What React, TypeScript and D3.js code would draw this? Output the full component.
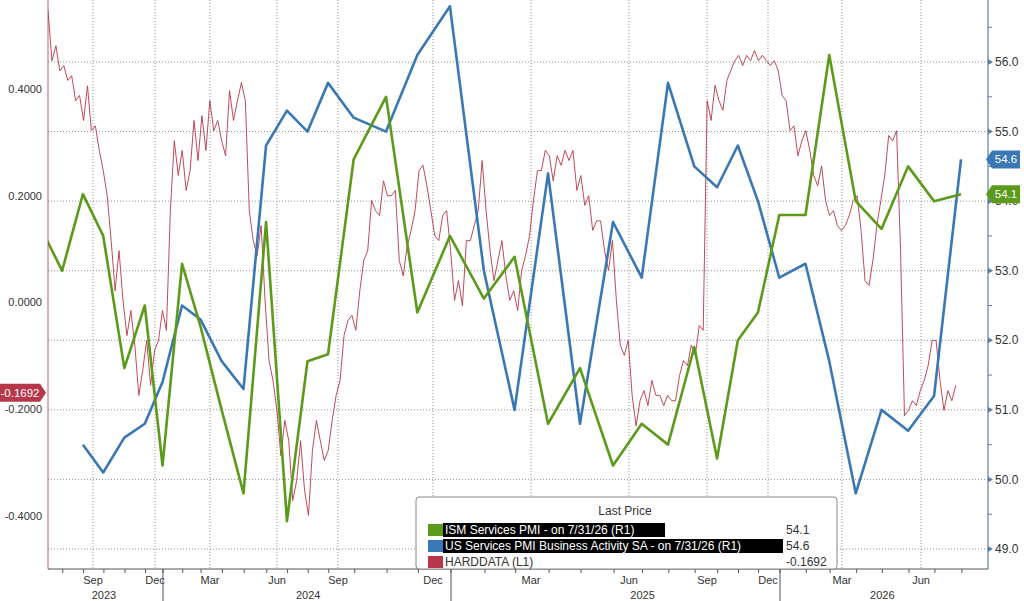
import React, { useEffect, useRef } from 'react';
import * as d3 from 'd3';

// axis anchors: month label positions on the Bloomberg-style compressed time axis
const axisAnchors: [string, number][] = [
  ['2023-07-10', 48], ['2023-09-15', 93], ['2023-12-15', 155], ['2024-01-01', 163],
  ['2024-03-15', 210], ['2024-06-15', 277], ['2024-09-15', 338], ['2024-12-15', 433],
  ['2025-01-01', 451], ['2025-03-15', 531], ['2025-06-15', 629], ['2025-09-15', 707],
  ['2025-12-15', 768], ['2026-01-01', 780], ['2026-03-15', 842], ['2026-06-15', 921],
  ['2026-08-31', 988],
];
const monthLabels: [string, string][] = [
  ['2023-09-15', 'Sep'], ['2023-12-15', 'Dec'], ['2024-03-15', 'Mar'], ['2024-06-15', 'Jun'],
  ['2024-09-15', 'Sep'], ['2024-12-15', 'Dec'], ['2025-03-15', 'Mar'], ['2025-06-15', 'Jun'],
  ['2025-09-15', 'Sep'], ['2025-12-15', 'Dec'], ['2026-03-15', 'Mar'], ['2026-06-15', 'Jun'],
];
const yearLabels: [string, string][] = [
  ['2023-10-01', '2023'], ['2024-08-01', '2024'], ['2025-07-01', '2025'], ['2026-05-01', '2026'],
];
const yearBreaks = ['2024-01-01', '2025-01-01', '2026-01-01'];

// monthly series, plotted at month end
const ismStart = '2023-06-01';
const ismValues = [53.6, 53.0, 54.1, 53.5, 51.6, 52.5, 50.2, 53.1, 52.2, 51.0, 49.8, 53.7, 49.4, 51.7,
  51.8, 54.6, 55.5, 52.4, 53.5, 52.6, 53.2, 50.8, 51.6, 50.2, 50.8, 50.5, 51.9, 50.3, 52.0, 52.4,
  53.8, 53.8, 56.1, 54.0, 53.6, 54.5, 54.0, 54.1];
const usStart = '2023-08-01';
const usValues = [50.5, 50.1, 50.6, 50.8, 51.4, 52.5, 52.3, 51.7, 51.3, 54.8, 55.3, 55.0, 55.7, 55.2,
  55.0, 56.1, 56.8, 53.0, 51.0, 54.4, 50.8, 53.7, 52.9, 55.7, 54.5, 54.2, 54.8, 54.0, 52.9, 53.1,
  51.7, 49.8, 51.0, 50.7, 51.2, 54.6];
const hardStart = '2023-07-10';
const hardEnd = '2026-07-25';
const hardValues = [0.547, 0.453, 0.481, 0.434, 0.444, 0.416, 0.425, 0.378, 0.388, 0.341, 0.406, 0.322,
  0.331, 0.285, 0.247, 0.200, 0.116, 0.022, 0.097, 0.004, -0.062, -0.015, -0.080, -0.174, -0.127, -0.071,
  -0.155, -0.090, -0.071, -0.015, -0.052, 0.172, 0.303, 0.238, 0.285, 0.210, 0.247, 0.341, 0.266, 0.350,
  0.285, 0.378, 0.322, 0.341, 0.303, 0.275, 0.397, 0.341, 0.378, 0.412, 0.378, 0.172, 0.116, 0.088,
  0.144, 0.004, -0.109, -0.146, -0.202, -0.287, -0.221, -0.259, -0.371, -0.334, -0.259, -0.352, -0.399,
  -0.277, -0.221, -0.259, -0.296, -0.277, -0.221, -0.174, -0.146, -0.062, -0.034, -0.024, -0.052, 0.022,
  0.079, 0.097, 0.191, 0.172, 0.163, 0.228, 0.200, 0.200, 0.210, 0.079, 0.050, 0.106, 0.135, 0.172,
  0.247, 0.257, 0.219, 0.172, 0.125, 0.116, 0.163, 0.172, 0.097, 0.004, 0.041, -0.006, 0.116, 0.116,
  0.144, 0.172, 0.266, 0.172, 0.097, 0.041, 0.079, 0.116, 0.050, 0.004, 0.022, -0.015, 0.060, 0.088,
  0.125, 0.191, 0.247, 0.247, 0.285, 0.275, 0.228, 0.275, 0.257, 0.285, 0.266, 0.285, 0.210, 0.238,
  0.182, 0.200, 0.135, 0.153, 0.153, 0.097, 0.060, 0.116, 0.004, -0.080, -0.099, -0.071, -0.174, -0.231,
  -0.184, -0.165, -0.193, -0.146, -0.174, -0.174, -0.193, -0.174, -0.184, -0.184, -0.137, -0.109, -0.118,
  -0.080, -0.099, -0.043, -0.052, 0.378, 0.341, 0.407, 0.378, 0.360, 0.416, 0.435, 0.453, 0.463, 0.444,
  0.463, 0.453, 0.472, 0.453, 0.463, 0.453, 0.444, 0.453, 0.435, 0.388, 0.378, 0.322, 0.331, 0.275,
  0.303, 0.322, 0.285, 0.238, 0.219, 0.256, 0.191, 0.163, 0.172, 0.144, 0.135, 0.144, 0.163, 0.191,
  0.200, 0.135, 0.041, 0.032, 0.079, 0.144, 0.191, 0.238, 0.313, 0.303, 0.322, 0.097, -0.212, -0.202,
  -0.184, -0.193, -0.165, -0.146, -0.118, -0.071, -0.071, -0.146, -0.202, -0.165, -0.184, -0.155];

const ink = '#333';
const green = '#5b9a1a';
const blue = '#3a78b5';
const red = '#b8364a';
const font = '"Liberation Sans Narrow", "Liberation Sans", sans-serif';

export default function App() {
  const ref = useRef<SVGSVGElement>(null);

  useEffect(() => {
    const svg = d3.select(ref.current!);
    svg.selectAll('*').remove();
    const W = 1024, H = 601;
    const left = 48, right = 988, top = 0, bottom = 569;

    const x = d3.scaleTime()
      .domain(axisAnchors.map(a => new Date(a[0])))
      .range(axisAnchors.map(a => a[1]));
    const yR = d3.scaleLinear().domain([49, 56]).range([549, 62]);
    const yL = d3.scaleLinear().domain([-0.4, 0.4]).range([516, 89]);

    svg.append('rect').attr('width', W).attr('height', H).attr('fill', '#fff');
    svg.append('clipPath').attr('id', 'plot').append('rect')
      .attr('x', left).attr('y', top).attr('width', right - left).attr('height', bottom - top);
    const g = svg.append('g');

    // horizontal grid (right axis)
    g.selectAll('.gh').data(d3.range(49, 57)).join('line')
      .attr('x1', left).attr('x2', right).attr('y1', d => yR(d)).attr('y2', d => yR(d))
      .attr('stroke', '#777').attr('stroke-dasharray', '1,2').attr('stroke-width', 0.8);
    // vertical grid at month labels
    g.selectAll('.gv').data(monthLabels).join('line')
      .attr('x1', d => x(new Date(d[0]))).attr('x2', d => x(new Date(d[0])))
      .attr('y1', top).attr('y2', bottom)
      .attr('stroke', '#777').attr('stroke-dasharray', '1,2').attr('stroke-width', 0.8);

    const plot = g.append('g').attr('clip-path', 'url(#plot)');

    // series
    const hs = new Date(hardStart), he = new Date(hardEnd);
    const hx0 = x(hs), hx1 = x(he);
    const hard = hardValues.map((v, i) => ({
      d: x.invert(hx0 + (i * (hx1 - hx0)) / (hardValues.length - 1)), v,
    }));
    plot.append('path').datum(hard)
      .attr('d', d3.line<{ d: Date; v: number }>().x(p => x(p.d)).y(p => yL(p.v)))
      .attr('fill', 'none').attr('stroke', red).attr('stroke-width', 0.9);

    const monthly = (start: string, vals: number[]) =>
      vals.map((v, i) => ({ d: d3.timeDay.offset(d3.timeMonth.offset(new Date(start + 'T00:00'), i + 1), -1), v }));
    const lineR = d3.line<{ d: Date; v: number }>().x(p => x(p.d)).y(p => yR(p.v));
    plot.append('path').datum(monthly(usStart, usValues)).attr('d', lineR)
      .attr('fill', 'none').attr('stroke', blue).attr('stroke-width', 2.6).attr('stroke-linejoin', 'round');
    plot.append('path').datum(monthly(ismStart, ismValues)).attr('d', lineR)
      .attr('fill', 'none').attr('stroke', green).attr('stroke-width', 2.6).attr('stroke-linejoin', 'round');

    // right axis
    g.append('line').attr('x1', right).attr('x2', right).attr('y1', 0).attr('y2', bottom)
      .attr('stroke', '#5a7fa8').attr('stroke-width', 1.2);
    g.selectAll('.rmt').data(d3.range(49.5, 57, 1)).join('line')
      .attr('x1', right).attr('x2', right + 4).attr('y1', d => yR(d)).attr('y2', d => yR(d))
      .attr('stroke', '#5a7fa8');
    const rt = g.selectAll('.rt').data(d3.range(49, 57)).join('g')
      .attr('transform', d => `translate(${right},${yR(d)})`);
    rt.append('path').attr('d', 'M0,-3L5,0L0,3Z').attr('fill', '#5a7fa8');
    rt.append('text').attr('x', 7).attr('dy', '0.35em').attr('font-size', 12).attr('font-family', font)
      .attr('fill', ink).text(d => d.toFixed(1));

    // left axis
    g.append('line').attr('x1', left).attr('x2', left).attr('y1', 0).attr('y2', bottom)
      .attr('stroke', red).attr('stroke-width', 0.8);
    g.selectAll('.lt').data(d3.range(-0.4, 0.41, 0.2)).join('text')
      .attr('x', 42).attr('y', d => yL(d)).attr('dy', '0.35em').attr('text-anchor', 'end')
      .attr('font-size', 11).attr('font-family', font).attr('fill', ink)
      .text(d => d3.format('.4f')(d).replace('−', '-'));

    // last value tags
    const tag = (xp: number, yp: number, txt: string, col: string, w: number, pointLeft: boolean) => {
      const t = g.append('g').attr('transform', `translate(${xp},${yp})`);
      const path = pointLeft
        ? `M0,0L6,-9H${w}V9H6Z`
        : `M0,-9H${w - 6}L${w},0L${w - 6},9H0Z`;
      t.append('path').attr('d', path).attr('fill', col);
      t.append('text').attr('x', pointLeft ? w / 2 + 3 : w / 2 - 3).attr('dy', '0.35em')
        .attr('text-anchor', 'middle').attr('font-size', 11.5).attr('font-family', font)
        .attr('fill', '#fff').text(txt);
    };
    tag(right - 2, yR(54.6), '54.6', blue, 34, true);
    tag(right - 2, yR(54.1), '54.1', green, 34, true);
    tag(0, yL(-0.1692), '-0.1692', red, 46, false);

    // x axis
    g.append('line').attr('x1', left).attr('x2', right).attr('y1', bottom).attr('y2', bottom)
      .attr('stroke', '#555');
    const months = d3.timeMonth.range(new Date('2023-08-01'), new Date('2026-08-15'));
    g.selectAll('.mt').data(months).join('line')
      .attr('x1', d => x(d)).attr('x2', d => x(d)).attr('y1', bottom).attr('y2', bottom + 4)
      .attr('stroke', '#555');
    g.selectAll('.ml').data(monthLabels).join('text')
      .attr('x', d => x(new Date(d[0]))).attr('y', 584).attr('text-anchor', 'middle')
      .attr('font-size', 11).attr('font-family', font).attr('fill', ink).text(d => d[1]);
    g.selectAll('.yl').data(yearLabels).join('text')
      .attr('x', d => x(new Date(d[0]))).attr('y', 599).attr('text-anchor', 'middle')
      .attr('font-size', 11).attr('font-family', font).attr('fill', ink).text(d => d[1]);
    g.selectAll('.yb').data(yearBreaks).join('line')
      .attr('x1', d => x(new Date(d))).attr('x2', d => x(new Date(d)))
      .attr('y1', bottom).attr('y2', H).attr('stroke', '#555');

    // legend
    const lg = g.append('g').attr('transform', 'translate(416,497)');
    lg.append('rect').attr('width', 421).attr('height', 72).attr('rx', 3)
      .attr('fill', '#fff').attr('stroke', '#888');
    lg.append('text').attr('x', 209).attr('y', 18).attr('text-anchor', 'middle')
      .attr('font-size', 12).attr('font-family', font).attr('fill', ink).text('Last Price');
    const rows = [
      { c: green, t: 'ISM Services PMI -  on 7/31/26  (R1)', v: '54.1', w: 222, hl: true },
      { c: blue, t: 'US Services PMI Business Activity SA -  on 7/31/26  (R1)', v: '54.6', w: 340, hl: true },
      { c: red, t: 'HARDDATA  (L1)', v: '-0.1692', w: 0, hl: false },
    ];
    rows.forEach((r, i) => {
      const yy = 28 + i * 16;
      lg.append('rect').attr('x', 12).attr('y', yy - 1).attr('width', 15).attr('height', 12).attr('fill', r.c);
      if (r.hl) lg.append('rect').attr('x', 27).attr('y', yy - 2).attr('width', r.w).attr('height', 14).attr('fill', '#000');
      lg.append('text').attr('x', 29).attr('y', yy + 9).attr('font-size', 12).attr('font-family', font)
        .attr('fill', r.hl ? '#fff' : ink).text(r.t);
      lg.append('text').attr('x', 370).attr('y', yy + 9).attr('font-size', 12).attr('font-family', font)
        .attr('fill', ink).text(r.v);
    });
  }, []);

  return (
    <svg ref={ref} width={1024} height={601}
      style={{ position: 'absolute', left: 0, top: 0, display: 'block' }} />
  );
}
